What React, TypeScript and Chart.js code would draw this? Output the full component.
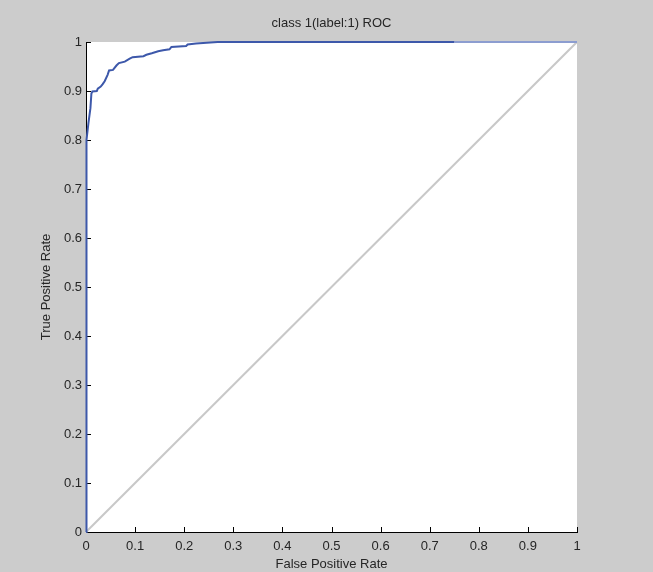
import React, { useEffect, useRef } from "react";
import { Chart, registerables } from "chart.js";

Chart.register(...registerables);

const fprValues = [
  0, 0, 0.002, 0.005, 0.009, 0.011, 0.013, 0.022, 0.024, 0.03, 0.034, 0.038,
  0.044, 0.047, 0.055, 0.062, 0.067, 0.079, 0.089, 0.095, 0.117, 0.123, 0.134,
  0.147, 0.157, 0.17, 0.174, 0.204, 0.207, 0.224, 0.268, 0.75,
];
const tprValues = [
  0, 0.78, 0.8, 0.835, 0.865, 0.895, 0.899, 0.9, 0.905, 0.909, 0.914, 0.92,
  0.933, 0.942, 0.943, 0.952, 0.957, 0.96, 0.966, 0.969, 0.971, 0.974, 0.977,
  0.981, 0.983, 0.985, 0.99, 0.992, 0.995, 0.997, 1.0, 1.0,
];
const tailFpr = [0.75, 1];
const tailTpr = [1, 1];
const diagX = [0, 1];
const diagY = [0, 1];
const tickValues = [0, 0.1, 0.2, 0.3, 0.4, 0.5, 0.6, 0.7, 0.8, 0.9, 1];
const tickLabels = ["0", "0.1", "0.2", "0.3", "0.4", "0.5", "0.6", "0.7", "0.8", "0.9", "1"];

const FONT = "'Liberation Sans', Arial, sans-serif";
const TEXT = "#262626";

export default function App() {
  const ref = useRef<HTMLCanvasElement | null>(null);

  useEffect(() => {
    document.body.style.margin = "0";
    document.body.style.background = "#cccccc";
    const canvas = ref.current;
    if (!canvas) return;

    const toPts = (xs: number[], ys: number[]) => xs.map((x, i) => ({ x, y: ys[i] }));

    const whiteArea = {
      id: "whiteArea",
      beforeDraw(chart: any) {
        const { ctx, chartArea } = chart;
        ctx.save();
        ctx.fillStyle = "#ffffff";
        ctx.fillRect(chartArea.left, chartArea.top, chartArea.right - chartArea.left, chartArea.bottom - chartArea.top);
        ctx.restore();
      },
    };

    const inwardTicks = {
      id: "inwardTicks",
      beforeDatasetsDraw(chart: any) {
        const { ctx, chartArea, scales } = chart;
        ctx.save();
        ctx.strokeStyle = "#000000";
        ctx.lineWidth = 1;
        ctx.beginPath();
        tickValues.forEach((v) => {
          const px = Math.round(scales.x.getPixelForValue(v)) + 0.5;
          ctx.moveTo(px, chartArea.bottom);
          ctx.lineTo(px, chartArea.bottom - 5);
          const py = Math.round(scales.y.getPixelForValue(v)) + 0.5;
          ctx.moveTo(chartArea.left, py);
          ctx.lineTo(chartArea.left + 5, py);
        });
        ctx.stroke();
        ctx.restore();
      },
    };

    const setTicks = (s: any) => {
      s.ticks = tickValues.map((v) => ({ value: v }));
    };

    const chart = new Chart(canvas, {
      type: "scatter",
      data: {
        datasets: [
          {
            data: toPts(fprValues, tprValues),
            showLine: true,
            borderColor: "#3d58aa",
            borderWidth: 2,
            pointRadius: 0,
            clip: false,
          } as any,
          {
            data: toPts(tailFpr, tailTpr),
            showLine: true,
            borderColor: "#8c9dd0",
            borderWidth: 2,
            pointRadius: 0,
            clip: false,
          } as any,
          {
            data: toPts(diagX, diagY),
            showLine: true,
            borderColor: "#c8c8c8",
            borderWidth: 2,
            pointRadius: 0,
            clip: false,
          } as any,
        ],
      },
      options: {
        responsive: false,
        animation: false,
        devicePixelRatio: 1,
        layout: { padding: { left: 0, right: 76, top: 0, bottom: 0 } },
        plugins: {
          legend: { display: false },
          tooltip: { enabled: false },
          title: {
            display: true,
            text: "class 1(label:1) ROC",
            color: TEXT,
            fullSize: false,
            font: { family: FONT, size: 13, weight: "normal" },
            padding: { top: 16, bottom: 10.4 },
          } as any,
        },
        scales: {
          x: {
            type: "linear",
            min: 0,
            max: 1,
            afterBuildTicks: setTicks,
            afterFit: (s: any) => {
              s.height = 40;
            },
            grid: { display: false, drawTicks: false, tickLength: 0 },
            border: { display: true, color: "#000000", width: 1 },
            ticks: {
              color: TEXT,
              padding: 7,
              maxRotation: 0,
              autoSkip: false,
              font: { family: FONT, size: 13 },
              callback: (_v: any, i: number) => tickLabels[i],
            },
            title: {
              display: true,
              text: "False Positive Rate",
              color: TEXT,
              font: { family: FONT, size: 13 },
              padding: { top: 0, bottom: 0 },
            },
          },
          y: {
            type: "linear",
            min: 0,
            max: 1,
            afterBuildTicks: setTicks,
            afterFit: (s: any) => {
              s.width = 86;
            },
            grid: { display: false, drawTicks: false, tickLength: 0 },
            border: { display: true, color: "#000000", width: 1 },
            ticks: {
              color: TEXT,
              padding: 4,
              autoSkip: false,
              font: { family: FONT, size: 13 },
              callback: (_v: any, i: number) => tickLabels[i],
            },
            title: {
              display: true,
              text: "True Positive Rate",
              color: TEXT,
              font: { family: FONT, size: 13 },
              padding: { top: 39, bottom: 0 },
            },
          },
        },
      },
      plugins: [whiteArea, inwardTicks],
    });

    return () => chart.destroy();
  }, []);

  return <canvas ref={ref} width={653} height={572} style={{ display: "block" }} />;
}
